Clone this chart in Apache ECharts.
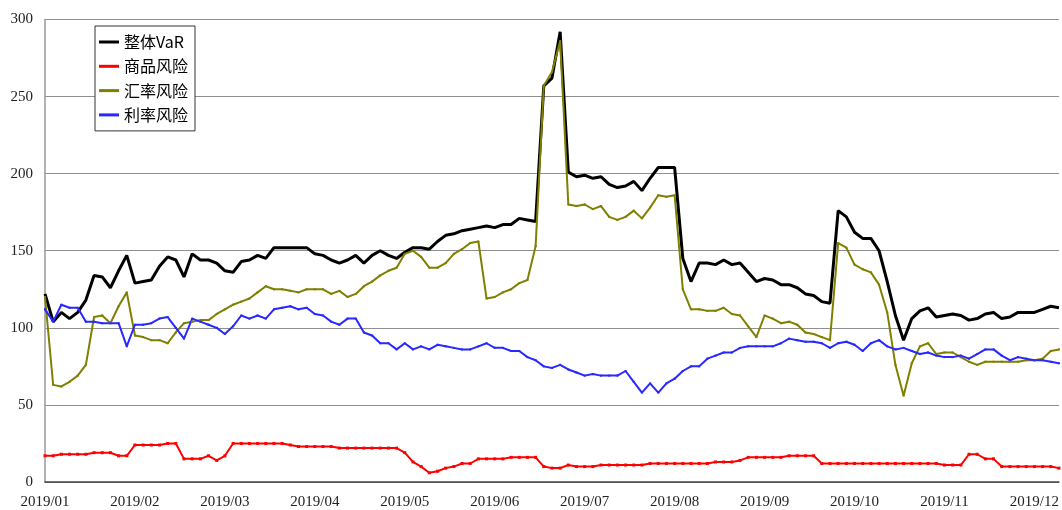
<!DOCTYPE html>
<html>
<head>
<meta charset="utf-8">
<style>
  html, body { margin: 0; padding: 0; background: #fff; }
  #chart { width: 1062px; height: 510px; }
</style>
<script src="https://cdn.jsdelivr.net/npm/echarts@6/dist/echarts.min.js"></script>
</head>
<body>
<div id="chart"></div>
<script>
// tick labels on the category axis, one every 11 points
const monthLabels = ['2019/01', '2019/02', '2019/03', '2019/04', '2019/05', '2019/06',
  '2019/07', '2019/08', '2019/09', '2019/10', '2019/11', '2019/12'];
const pointsPerLabel = 11;

const seriesNames = ['整体VaR', '商品风险', '汇率风险', '利率风险'];

const totalVar = [
  122, 104, 110, 106, 110, 118, 134, 133, 126, 137,
  147, 129, 130, 131, 140, 146, 144, 133, 148, 144,
  144, 142, 137, 136, 143, 144, 147, 145, 152, 152,
  152, 152, 152, 148, 147, 144, 142, 144, 147, 142,
  147, 150, 147, 145, 149, 152, 152, 151, 156, 160,
  161, 163, 164, 165, 166, 165, 167, 167, 171, 170,
  169, 257, 262, 292, 201, 198, 199, 197, 198, 193,
  191, 192, 195, 189, 197, 204, 204, 204, 145, 130,
  142, 142, 141, 144, 141, 142, 136, 130, 132, 131,
  128, 128, 126, 122, 121, 117, 116, 176, 172, 162,
  158, 158, 150, 130, 108, 92, 106, 111, 113, 107,
  108, 109, 108, 105, 106, 109, 110, 106, 107, 110,
  110, 110, 112, 114, 113
];

const commodityRisk = [
  17, 17, 18, 18, 18, 18, 19, 19, 19, 17,
  17, 24, 24, 24, 24, 25, 25, 15, 15, 15,
  17, 14, 17, 25, 25, 25, 25, 25, 25, 25,
  24, 23, 23, 23, 23, 23, 22, 22, 22, 22,
  22, 22, 22, 22, 19, 13, 10, 6, 7, 9,
  10, 12, 12, 15, 15, 15, 15, 16, 16, 16,
  16, 10, 9, 9, 11, 10, 10, 10, 11, 11,
  11, 11, 11, 11, 12, 12, 12, 12, 12, 12,
  12, 12, 13, 13, 13, 14, 16, 16, 16, 16,
  16, 17, 17, 17, 17, 12, 12, 12, 12, 12,
  12, 12, 12, 12, 12, 12, 12, 12, 12, 12,
  11, 11, 11, 18, 18, 15, 15, 10, 10, 10,
  10, 10, 10, 10, 9
];

const fxRisk = [
  120, 63, 62, 65, 69, 76, 107, 108, 103, 114,
  123, 95, 94, 92, 92, 90, 97, 103, 104, 105,
  105, 109, 112, 115, 117, 119, 123, 127, 125, 125,
  124, 123, 125, 125, 125, 122, 124, 120, 122, 127,
  130, 134, 137, 139, 148, 150, 146, 139, 139, 142,
  148, 151, 155, 156, 119, 120, 123, 125, 129, 131,
  153, 257, 266, 286, 180, 179, 180, 177, 179, 172,
  170, 172, 176, 171, 178, 186, 185, 186, 125, 112,
  112, 111, 111, 113, 109, 108, 101, 94, 108, 106,
  103, 104, 102, 97, 96, 94, 92, 155, 152, 141,
  138, 136, 128, 110, 76, 56, 77, 88, 90, 83,
  84, 84, 81, 78, 76, 78, 78, 78, 78, 78,
  79, 79, 80, 85, 86
];

const rateRisk = [
  112, 104, 115, 113, 113, 104, 104, 103, 103, 103,
  88, 102, 102, 103, 106, 107, 100, 93, 106, 104,
  102, 100, 96, 101, 108, 106, 108, 106, 112, 113,
  114, 112, 113, 109, 108, 104, 102, 106, 106, 97,
  95, 90, 90, 86, 90, 86, 88, 86, 89, 88,
  87, 86, 86, 88, 90, 87, 87, 85, 85, 81,
  79, 75, 74, 76, 73, 71, 69, 70, 69, 69,
  69, 72, 65, 58, 64, 58, 64, 67, 72, 75,
  75, 80, 82, 84, 84, 87, 88, 88, 88, 88,
  90, 93, 92, 91, 91, 90, 87, 90, 91, 89,
  85, 90, 92, 88, 86, 87, 85, 83, 84, 82,
  81, 81, 82, 80, 83, 86, 86, 82, 79, 81,
  80, 79, 79, 78, 77
];

// category for each point: month label plus position inside the label step
const categories = totalVar.map((_, i) =>
  monthLabels[Math.floor(i / pointsPerLabel)] + '#' + (i % pointsPerLabel));

const chart = echarts.init(document.getElementById('chart'), null, { renderer: 'canvas' });

const serifFont = "'Liberation Serif', 'Noto Sans CJK SC', serif";

function lineSeries(name, data, color, width, symbol, symbolSize) {
  return {
    name,
    type: 'line',
    data,
    symbol,
    symbolSize,
    showSymbol: symbol !== 'none',
    lineStyle: { color, width },
    itemStyle: { color },
    emphasis: { disabled: true }
  };
}

chart.setOption({
  animation: false,
  backgroundColor: '#fff',
  grid: { left: 45, top: 19.5, height: 468.5, width: 1020, containLabel: false },
  legend: {
    orient: 'vertical',
    left: 95,
    top: 26,
    padding: [8, 7, 8, 4],
    itemGap: 8.3,
    itemWidth: 20,
    itemHeight: 3,
    icon: 'rect',
    borderColor: '#333',
    borderWidth: 1,
    backgroundColor: '#fff',
    data: seriesNames,
    textStyle: { fontSize: 16, color: '#000', fontFamily: "'Noto Sans CJK SC', sans-serif" }
  },
  xAxis: {
    type: 'category',
    data: categories,
    boundaryGap: false,
    axisLine: { lineStyle: { color: '#444', width: 1.5 } },
    axisTick: { show: false },
    splitLine: { show: false },
    axisLabel: {
      interval: pointsPerLabel - 1,
      margin: 13,
      color: '#222',
      fontSize: 15,
      fontFamily: serifFont,
      formatter: v => v.split('#')[0]
    }
  },
  yAxis: {
    type: 'value',
    min: 0,
    max: 300,
    interval: 50,
    axisLine: { show: true, lineStyle: { color: '#999', width: 1.5 } },
    axisTick: { show: false },
    splitLine: { lineStyle: { color: '#8f8f8f', width: 1.2 } },
    axisLabel: { margin: 12, color: '#222', fontSize: 15, fontFamily: serifFont }
  },
  series: [
    lineSeries(seriesNames[0], totalVar, '#000000', 3, 'none', 0),
    lineSeries(seriesNames[1], commodityRisk, '#ff0000', 2, 'rect', 3),
    lineSeries(seriesNames[2], fxRisk, '#808000', 2, 'rect', 2),
    lineSeries(seriesNames[3], rateRisk, '#2828ff', 2, 'rect', 2)
  ]
});

window.addEventListener('resize', () => chart.resize());
</script>
</body>
</html>
